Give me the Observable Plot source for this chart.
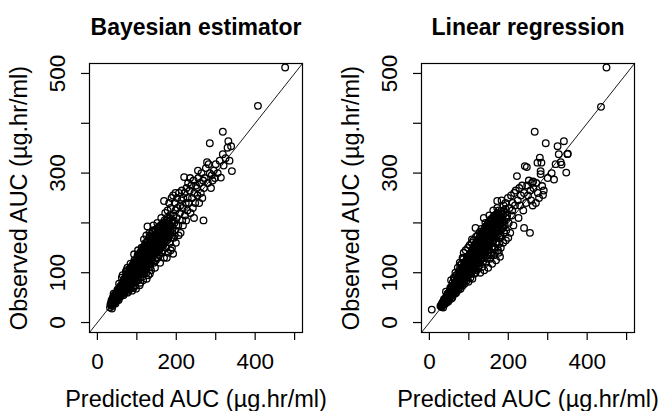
<!DOCTYPE html>
<html><head><meta charset="utf-8">
<script src="https://cdn.jsdelivr.net/npm/d3@7"></script>
<script src="https://cdn.jsdelivr.net/npm/@observablehq/plot@0.6"></script>
<style>
body{margin:0;background:#fff;}
#wrap{display:flex;width:664px;height:411px;background:#fff;}
</style></head><body><div id="wrap"></div>
<script>
const panelTitles = ["Bayesian estimator", "Linear regression"];
const xLabel = "Predicted AUC (µg.hr/ml)";
const yLabel = "Observed AUC (µg.hr/ml)";
const xTicks = [0, 100, 200, 300, 400, 500];
const xTickLabels = [0, 200, 400];
const yTicks = [0, 100, 200, 300, 400, 500];
const yTickLabels = [0, 100, 300, 500];
const axisLimits = [-20, 520];

// [predicted, observed] — Bayesian estimator panel
const bayesian = [
[32,30],[35,38],[38,33],[36,45],[40,42],[33,36],[39,50],[37,28],
[42,40],[44,48],[45,55],[47,44],[48,60],[43,52],[46,38],[49,50],[41,58],[50,46],
[52,50],[53,62],[55,57],[56,68],[58,52],[54,45],[57,72],[59,60],[51,66],[60,55],[55,78],[58,64],
[61,58],[62,70],[63,80],[64,62],[65,75],[66,55],[67,85],[68,68],[69,72],[70,62],[62,90],[66,78],[68,58],[64,95],
[71,70],[72,82],[73,65],[74,90],[75,76],[76,60],[77,98],[78,84],[79,70],[80,78],[72,102],[75,88],[78,62],[80,95],[74,105],[76,110],
[81,74],[82,88],[83,95],[84,68],[85,82],[86,100],[87,78],[88,92],[89,85],[90,72],[82,108],[84,118],[86,90],[88,64],[90,105],[83,80],[87,112],
[91,88],[92,100],[93,80],[94,110],[95,92],[96,75],[97,104],[98,95],[99,120],[100,86],[92,70],[94,125],[96,115],[98,68],[100,100],[93,137],[95,98],
[101,110],[102,92],[103,120],[104,85],[105,105],[106,128],[107,98],[108,115],[109,80],[110,108],[102,135],[104,100],[106,118],[108,90],[110,125],[103,145],[107,75],
[111,115],[112,100],[113,130],[114,92],[115,120],[116,140],[117,108],[118,125],[119,98],[120,115],[112,150],[114,135],[116,85],[118,167],[120,130],[113,110],[117,148],
[121,125],[122,108],[123,140],[124,100],[125,130],[126,155],[127,118],[128,140],[129,95],[130,125],[122,160],[124,175],[126,112],[128,150],[130,145],[127,193],[125,88],
[131,130],[132,145],[133,118],[134,160],[135,135],[136,105],[137,150],[138,170],[139,125],[140,142],[132,180],[134,112],[136,165],[138,135],[140,185],[133,98],
[141,135],[142,155],[143,120],[144,170],[145,145],[146,110],[147,160],[148,185],[149,130],[150,150],[142,195],[144,140],[146,175],[148,125],[150,165],
[151,140],[152,160],[153,175],[154,130],[155,155],[156,190],[157,145],[158,170],[159,120],[160,160],[152,200],[154,182],[156,135],[158,150],[160,195],
[161,150],[162,170],[163,185],[164,140],[165,165],[166,200],[167,155],[168,180],[169,130],[170,172],[162,210],[164,190],[166,145],[168,160],[170,205],[169,244],
[171,160],[172,180],[173,195],[174,150],[175,175],[176,210],[177,165],[178,185],[179,140],[180,170],[172,220],[174,200],[176,130],[178,225],[180,190],
[181,175],[182,195],[183,210],[184,160],[185,185],[186,230],[187,170],[188,200],[189,150],[190,180],[182,240],[184,215],[186,145],[188,250],[190,205],
[191,190],[192,138],[193,215],[194,170],[195,200],[196,240],[197,185],[198,225],[199,160],[200,195],[192,255],[194,205],[196,175],[198,260],
[201,210],[203,230],[205,195],[207,260],[209,220],[211,180],[213,245],[215,205],[202,250],[206,175],[210,235],[214,265],
[216,230],[218,250],[220,292],[222,215],[224,240],[226,270],[228,225],[217,195],[221,260],[225,205],[229,250],[230,280],
[232,240],[234,265],[236,220],[238,275],[240,250],[242,230],[244,285],[246,260],[248,240],[250,275],[235,290],[245,210],
[252,270],[254,255],[256,290],[258,240],[260,280],[262,260],[264,300],[266,250],[268,285],[270,270],[269,205],[255,305],
[272,290],[275,310],[278,322],[280,280],[282,318],[285,300],[288,270],[290,296],[292,285],[295,305],[298,290],[300,318],
[305,300],[310,325],[313,291],[318,338],[318,383],[325,330],[330,351],[332,364],[339,354],[341,304],[285,360],[320,315],[335,325],
[407,435],[476,512]
];
// dense core of the Bayesian panel
const bayesianCore = [
[35,35],[35,41],[37,39],[38,44],[40,37],[40,46],[41,51],[42,43],[43,48],[43,55],[44,40],[45,50],[46,57],[46,45],[47,52],[48,49],[49,58],[50,53],[50,61],[51,47],
[52,56],[53,65],[54,52],[54,60],[55,68],[56,58],[57,64],[58,70],[59,56],[60,67],[60,74],[61,63],[62,58],[63,72],[64,77],[64,66],[65,70],[66,82],[67,63],[68,74],
[68,88],[69,79],[70,69],[71,85],[72,76],[72,93],[73,71],[74,84],[75,98],[75,79],[76,90],[77,73],[78,95],[78,81],[79,101],[80,86],[81,92],[81,79],[82,99],[83,104],
[83,87],[84,94],[85,110],[85,78],[86,96],[87,104],[87,86],[88,114],[89,97],[89,83],[90,108],[91,94],[91,118],[92,86],[93,103],[93,113],[94,96],[95,121],[95,88],[96,106],
[97,117],[97,97],[98,126],[99,108],[99,91],[100,118],[101,101],[101,130],[102,112],[103,96],[103,124],[104,135],[104,108],[105,118],[106,100],[106,131],[107,122],[108,140],[108,110],[109,128],
[110,98],[110,136],[111,121],[112,144],[112,108],[113,127],[114,137],[114,116],[115,104],[115,148],[116,130],[117,118],[117,141],[118,152],[118,110],[119,134],[120,122],[120,146],[121,156],[122,117],
[122,138],[123,128],[124,150],[124,112],[125,160],[126,134],[126,122],[127,145],[128,165],[128,118],[129,138],[130,155],[130,128],[131,170],[132,140],[132,122],[133,150],[134,174],[134,134],[135,160],
[136,146],[136,126],[137,178],[138,155],[138,140],[139,167],[140,132],[140,150],[141,182],[142,162],[143,145],[144,172],[145,138],[146,158],[146,186],[147,166],[148,150],[149,178],[150,142],[150,162],
[152,190],[152,170],[153,155],[155,180],[155,148],[156,168],[158,192],[158,160],[160,176],[161,152],[162,186],[163,168],[164,198],[166,178],[167,160],[168,192],[170,182],[171,165],[172,200],[174,188],
[176,172],[177,205],[179,190],[181,180],[183,208],[185,195],
[39,41],[41,44],[42,39],[44,47],[45,43],[47,49],[48,45],[50,51],[51,56],[52,49],[53,54],[55,59],[56,53],[57,60],[58,66],[59,61],[61,66],[62,62],[63,68],[64,72],
[65,65],[66,70],[67,75],[68,70],[69,74],[70,77],[71,73],[72,79],[73,82],[74,77],[75,84],[76,80],[77,86],[78,83],[79,90],[80,84],[81,88],[82,84],[83,92],[84,89],
[85,96],[86,91],[87,97],[88,93],[89,102],[90,96],[91,100],[92,110],[93,96],[94,104],[95,110],[96,100],[97,107],[98,115],[99,102],[100,110],[101,116],[102,105],[103,112],[104,120],
[105,108],[106,115],[107,126],[108,118],[109,112],[110,122],[111,130],[112,118],[113,124],[114,132],[115,126],[116,120],[117,130],[118,138],[119,126],[120,134],[121,140],[122,130],[123,136],[124,142],
[125,134],[126,140],[127,150],[128,136],[129,144],[130,150],[131,140],[132,148],[133,156],[134,146],[135,152],[136,140],[137,158],[138,148],[139,155],[140,162],[141,150],[142,158],[143,165],[144,152],
[145,160],[146,168],[147,155],[148,162],[149,170],[150,158],[151,166],[152,175],[153,162],[154,170],[155,164],[156,176],[157,168],[158,180],[159,166],[160,172],[161,180],[162,165],[163,176],[164,184],
[165,172],[166,188],[167,178],[168,170],[169,186],[170,176],[172,186],[173,178],[175,190],[177,182],[179,196]
];

// [predicted, observed] — Linear regression panel
const linear = [
[6,26],[28,33],[30,35],[32,34],[34,38],[36,36],[33,40],[38,42],[31,31],[37,47],[35,30],[39,37],
[41,45],[43,52],[44,40],[46,58],[47,48],[49,55],[42,62],[45,47],[48,42],[50,60],
[51,52],[52,65],[54,58],[55,48],[56,72],[57,62],[58,55],[59,80],[53,70],[60,66],[55,85],[58,50],
[61,60],[62,75],[63,68],[64,88],[65,58],[66,80],[67,70],[68,95],[69,64],[70,78],[62,90],[66,100],[68,60],[64,72],
[71,72],[72,86],[73,98],[74,66],[75,82],[76,105],[77,76],[78,92],[79,68],[80,88],[72,110],[75,94],[78,115],[80,75],[74,80],[77,120],
[81,80],[82,96],[83,108],[84,74],[85,90],[86,127],[87,85],[88,102],[89,78],[90,95],[82,118],[84,130],[86,100],[88,88],[90,112],[83,86],[87,140],
[91,92],[92,106],[93,118],[94,84],[95,100],[96,132],[97,90],[98,112],[99,82],[100,104],[92,145],[94,125],[96,95],[98,150],[100,120],[93,98],[97,110],
[101,100],[102,115],[103,128],[104,90],[105,110],[106,140],[107,102],[108,167],[109,88],[110,118],[102,155],[104,132],[106,98],[108,125],[110,145],[103,108],[107,160],
[111,108],[112,125],[113,138],[114,98],[115,120],[116,150],[117,190],[118,132],[119,105],[120,125],[112,165],[114,145],[116,112],[118,172],[120,140],[113,118],[117,100],
[121,118],[122,135],[123,150],[124,108],[125,130],[126,165],[127,120],[128,145],[129,100],[130,135],[122,175],[124,155],[126,115],[128,182],[130,150],[125,140],[129,125],
[131,128],[132,145],[133,162],[134,112],[135,140],[136,178],[137,130],[138,210],[139,105],[140,145],[132,188],[134,155],[136,122],[138,170],[140,160],[133,140],
[141,138],[142,155],[143,172],[144,120],[145,150],[146,192],[147,135],[148,165],[149,110],[150,152],[142,200],[144,180],[146,128],[148,145],[150,170],
[151,145],[152,165],[153,182],[154,128],[155,158],[156,205],[157,140],[158,175],[159,118],[160,160],[152,215],[154,190],[156,135],[158,150],[160,180],
[161,152],[162,175],[163,195],[164,135],[165,168],[166,215],[167,150],[168,185],[169,125],[170,170],[162,225],[164,200],[166,140],[168,160],[170,190],
[171,160],[172,244],[173,205],[174,145],[175,178],[176,225],[177,158],[178,195],[179,132],[180,175],[172,230],[174,210],[176,140],[178,170],[180,200],
[182,172],[184,210],[186,190],[188,235],[190,180],[192,220],[194,165],[181,150],[183,245],[185,200],[187,160],[189,225],[191,195],[193,240],[195,185],
[197,215],[199,250],[201,200],[203,230],[205,180],[207,255],[209,215],[211,240],[213,195],[215,260],[200,170],[210,225],
[217,235],[219,265],[222,294],[224,245],[226,210],[228,270],[230,235],[232,255],[235,275],[238,225],[240,190],[240,260],
[242,314],[245,240],[247,312],[248,275],[250,255],[252,285],[255,180],[256,265],[258,245],[260,280],[262,235],[264,270],
[263,283],[267,383],[271,280],[274,321],[275,260],[278,250],[280,331],[282,304],[284,321],[286,274],[288,256],[290,265],[282,298],[295,360],[270,240],
[316,287],[320,318],[325,354],[328,338],[333,322],[335,317],[341,364],[347,301],[351,339],[350,338],[310,300],[300,290],
[435,433],[449,512]
];
// dense core of the Linear regression panel
const linearCore = [
[30,33],[31,37],[33,36],[34,41],[36,39],[37,44],[38,40],[40,47],[41,43],[42,50],[43,46],[44,54],[45,50],[46,44],[47,57],[48,52],[49,60],[50,55],[51,49],[52,62],
[53,57],[54,66],[55,60],[56,54],[57,69],[58,63],[59,72],[60,58],[61,68],[62,76],[63,64],[64,80],[65,71],[66,62],[67,77],[68,84],[69,70],[70,81],[71,89],[72,75],
[73,85],[74,94],[75,70],[75,88],[76,80],[77,97],[78,86],[79,102],[80,82],[80,93],[81,107],[82,88],[83,99],[84,79],[84,110],[85,95],[86,104],[87,90],[87,115],[88,100],
[89,108],[90,86],[90,120],[91,104],[92,96],[92,114],[93,124],[94,102],[95,118],[95,92],[96,128],[97,108],[98,120],[98,98],[99,132],[100,112],[101,124],[101,104],[102,136],[103,116],
[104,128],[104,98],[105,140],[106,120],[107,132],[107,110],[108,145],[109,125],[110,138],[110,106],[111,150],[112,130],[113,142],[113,116],[114,155],[115,134],[116,146],[116,122],[117,158],[118,138],
[119,150],[119,118],[120,162],[121,142],[122,154],[122,128],[123,166],[124,146],[125,158],[125,124],[126,170],[127,150],[128,162],[128,134],[129,174],[130,154],[131,166],[131,130],[132,178],[133,158],
[134,170],[134,140],[135,182],[136,162],[137,174],[137,136],[138,186],[139,166],[140,178],[140,146],[141,190],[142,170],[143,182],[143,150],[144,194],[145,174],[146,186],[147,156],[148,198],[149,178],
[150,190],[150,160],[152,202],[153,182],[154,168],[155,195],[156,176],[157,208],[158,186],[159,170],[160,200],[161,182],[162,212],[163,192],[164,176],[165,205],[166,186],[167,216],[168,196],[169,180],
[170,210],[172,190],[173,220],[175,200],[176,184],[178,214],[180,196],[182,224],[184,205],[186,190],[188,218],[190,204],[193,228],[196,210],
[34,35],[36,42],[38,37],[39,45],[41,41],[42,47],[44,45],[45,54],[46,49],[48,56],[49,51],[50,58],[51,55],[53,61],[54,56],[55,64],[56,60],[57,66],[58,60],[60,70],
[61,65],[62,71],[63,76],[64,69],[65,76],[66,72],[67,80],[68,75],[69,83],[70,76],[71,82],[72,88],[73,80],[74,87],[75,93],[76,85],[77,90],[78,98],[79,88],[80,96],
[81,101],[82,92],[83,103],[84,96],[85,104],[86,98],[87,108],[88,112],[89,100],[90,108],[91,114],[92,104],[93,112],[94,118],[95,108],[96,116],[97,124],[98,110],[99,120],[100,126],
[101,116],[102,124],[103,132],[104,120],[105,128],[106,134],[107,124],[108,132],[109,140],[110,128],[111,136],[112,142],[113,132],[114,140],[115,148],[116,136],[117,144],[118,152],[119,140],[120,148],
[121,156],[122,144],[123,152],[124,160],[125,148],[126,156],[127,164],[128,152],[129,160],[130,168],[131,156],[132,164],[133,172],[134,160],[135,170],[136,176],[137,164],[138,174],[139,180],[140,168],
[141,176],[142,184],[143,172],[144,180],[145,188],[146,176],[147,184],[148,192],[149,180],[150,186],[152,194],[153,184],[154,198],[156,188],[157,198],[158,206],[160,192],[161,202],[163,210],[164,196],
[166,206],[168,214],[169,200],[171,210],[173,202],[175,216],[178,208],[181,218],[184,210]
];

const fontFam = "'Liberation Sans', Arial, Helvetica, sans-serif";

function panel(title, pts) {
  return Plot.plot({
    width: 332, height: 411,
    marginLeft: 89, marginRight: 30, marginTop: 63, marginBottom: 79,
    x: {domain: axisLimits},
    y: {domain: axisLimits},
    style: {fontFamily: fontFam, fontSize: "22px", color: "#000", background: "#fff", overflow: "visible"},
    marks: [
      Plot.link([axisLimits], {x1: d => d[0], y1: d => d[0], x2: d => d[1], y2: d => d[1], stroke: "#000", strokeWidth: 0.9}),
      Plot.dot(pts, {x: d => d[0], y: d => d[1], r: 3.3, stroke: "#000", strokeWidth: 1.3, fill: "none"}),
      Plot.frame({stroke: "#000", strokeWidth: 1.2}),
      Plot.axisX({ticks: xTicks, tickSize: 8, tickFormat: () => "", label: null, strokeWidth: 1.2}),
      Plot.axisY({ticks: yTicks, tickSize: 8, tickFormat: () => "", label: null, strokeWidth: 1.2}),
      Plot.text(xTickLabels, {x: d => d, text: d => String(d), frameAnchor: "bottom", dy: 20.5, lineAnchor: "top", fontSize: 22.5, fill: "#000"}),
      Plot.text(yTickLabels, {y: d => d, text: d => String(d), frameAnchor: "left", rotate: -90, dx: -31.5, lineAnchor: "middle", textAnchor: "middle", fontSize: 22.5, fill: "#000"}),
      Plot.text([title], {frameAnchor: "top", dy: -45, lineAnchor: "top", fontSize: 23, fontWeight: "bold", fill: "#000"}),
      Plot.text([xLabel], {frameAnchor: "bottom", dy: 58, lineAnchor: "top", fontSize: 23.5, fill: "#000"}),
      Plot.text([yLabel], {frameAnchor: "left", rotate: -90, dx: -79, lineAnchor: "top", textAnchor: "middle", fontSize: 23.5, fill: "#000"})
    ]
  });
}

const wrap = document.getElementById("wrap");
wrap.appendChild(panel(panelTitles[0], bayesian.concat(bayesianCore)));
wrap.appendChild(panel(panelTitles[1], linear.concat(linearCore)));
</script></body></html>
